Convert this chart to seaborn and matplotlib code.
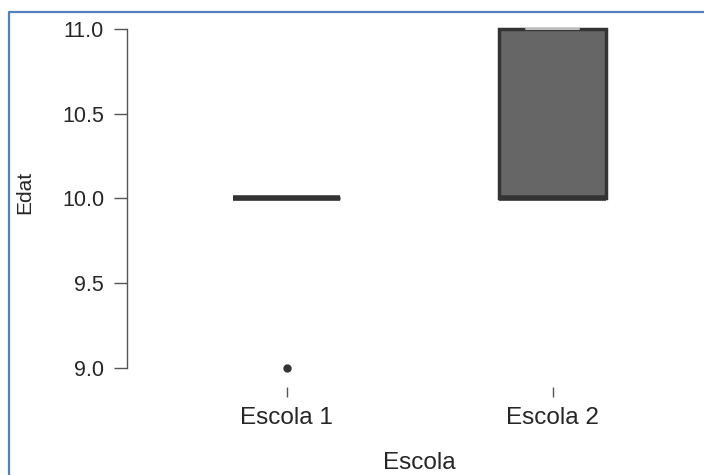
import matplotlib
matplotlib.use("Agg")
import matplotlib.pyplot as plt
from matplotlib.lines import Line2D
import pandas as pd
import seaborn as sns

# values
escola_1 = [9, 10, 10, 10, 10, 10, 10]
escola_2 = [10, 10, 10, 10, 11, 11, 11]
categories = ["Escola 1", "Escola 2"]
y_ticks = [9.0, 9.5, 10.0, 10.5, 11.0]

df = pd.DataFrame({
    "Escola": [categories[0]] * len(escola_1) + [categories[1]] * len(escola_2),
    "Edat": escola_1 + escola_2,
})

sns.set_style("white")
plt.rcParams['font.family'] = ['Liberation Sans', 'DejaVu Sans']

fig = plt.figure(figsize=(7.04, 4.75), dpi=100)
ax = fig.add_axes([127 / 704, (475 - 387) / 475, 573 / 704, 366.5 / 475])

sns.boxplot(data=df, x="Escola", y="Edat", ax=ax, order=categories,
            color="#666666", linecolor="#333333", linewidth=2.5, width=0.4,
            saturation=1,
            medianprops={"linewidth": 4, "color": "#333333"},
            capprops={"color": "#bbbbbb", "linewidth": 1.5},
            flierprops={"marker": "o", "markersize": 5,
                        "markerfacecolor": "#333333",
                        "markeredgecolor": "#333333"})

ax.set_xlim(-0.6, 1.554)
ax.set_ylim(8.888, 11.05)
ax.set_yticks(y_ticks)
ax.set_yticklabels(["{:.1f}".format(v) for v in y_ticks])

for s in ["top", "right", "bottom"]:
    ax.spines[s].set_visible(False)
ax.spines["left"].set_bounds(9, 11)
ax.spines["left"].set_color("#555555")
ax.spines["left"].set_linewidth(1)

ax.tick_params(axis="y", direction="out", length=9.5, width=1, color="#555555",
               pad=7, labelsize=15.5, left=True)
ax.tick_params(axis="x", direction="out", length=7, width=1, color="#555555",
               pad=7.5, labelsize=17.5, bottom=True)

ax.set_xlabel("Escola", fontsize=17.5)
ax.set_ylabel("Edat", fontsize=15)
ax.xaxis.set_label_coords(0.511, -0.178)
ax.xaxis.label.set_va("top")
ax.yaxis.set_label_coords(-0.161, 0.532)

# blue frame (top and left edges visible in the screenshot)
fig.add_artist(Line2D([9 / 704, 9 / 704, 1.0], [0.0, 1 - 11.5 / 475, 1 - 11.5 / 475],
                      transform=fig.transFigure, color="#4F81BD", linewidth=1.6))

fig.savefig("out.png", dpi=100)
